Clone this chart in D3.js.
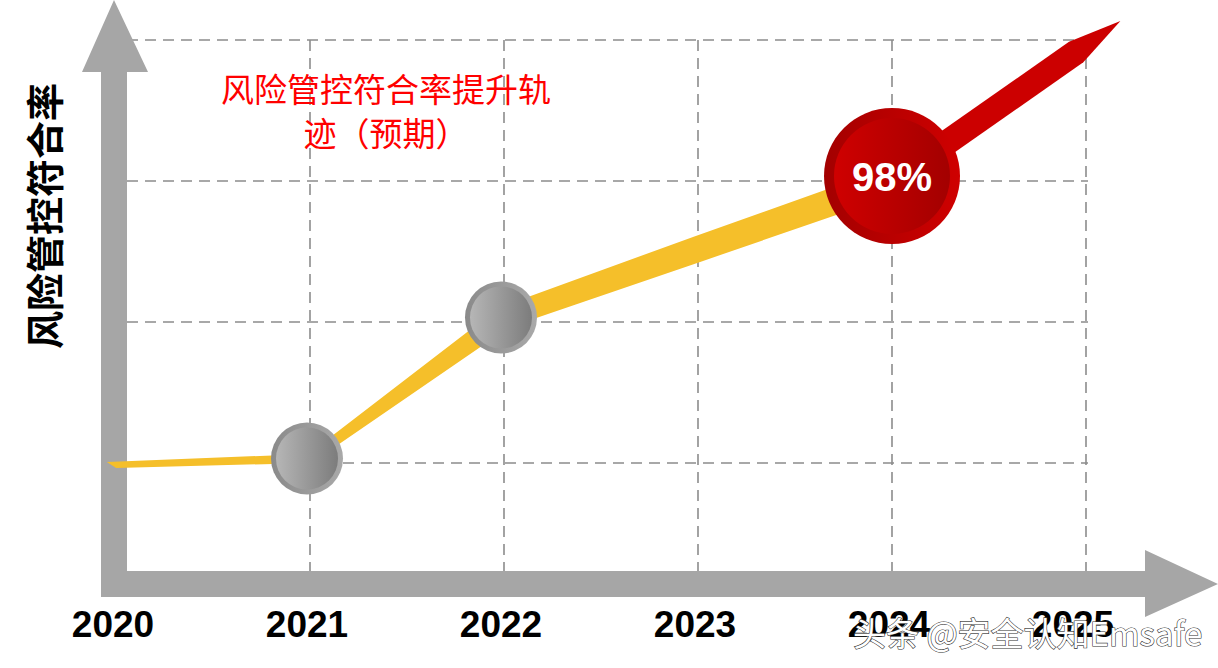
<!DOCTYPE html>
<html>
<head>
<meta charset="utf-8">
<script src="https://cdn.jsdelivr.net/npm/d3@7"></script>
<style>
  html, body { margin: 0; padding: 0; background: #fff; }
  svg { display: block; }
</style>
</head>
<body>
<svg id="chart"></svg>
<script>
// data
const years = [2020, 2021, 2022, 2023, 2024, 2025];
const rates = [75.85, 76.35, 87.35, 92.7, 98, 108.6];
const gridValues = [76, 87, 98, 109];
const yearLabels = ['2020', '2021', '2022', '2023', '2024', '2025'];
const markerYears = [2021, 2022];
const highlightLabel = '98%';
const titleLines = ['风险管控符合率提升轨', '迹（预期）'];
const yTitle = '风险管控符合率';
const watermark = '头条 @安全认知Emsafe';

const width = 1218;
const height = 668;
const axisW = 26;
const axisLeft = 101;
const axisBottom = 597;
const plotLeft = axisLeft + axisW;
const plotBottom = axisBottom - axisW;

const svg = d3.select('#chart').attr('width', width).attr('height', height);

const x = d3.scaleLinear().domain([2020, 2025]).range([116, 1086]);
const y = d3.scaleLinear().domain([76, 109]).range([463, 40]);

const defs = svg.append('defs');
const grad = (id, c1, c2) => {
  const g = defs.append('linearGradient').attr('id', id)
    .attr('x1', 0).attr('x2', 1).attr('y1', 0).attr('y2', 0);
  g.append('stop').attr('offset', '0%').attr('stop-color', c1);
  g.append('stop').attr('offset', '100%').attr('stop-color', c2);
};
grad('redOuter', '#a30000', '#cf0000');
grad('redInner', '#cf0000', '#a30000');
grad('grayOuter', '#8a8a8a', '#a9a9a9');
grad('grayInner', '#b6b6b6', '#7c7c7c');

// grid
const grid = svg.append('g')
  .attr('stroke', '#8c8c8c')
  .attr('stroke-width', 1.6)
  .attr('stroke-dasharray', '11,7')
  .attr('fill', 'none');

grid.selectAll('line.h')
  .data(gridValues)
  .join('line')
  .attr('class', 'h')
  .attr('x1', plotLeft)
  .attr('x2', x(2025) + 2)
  .attr('y1', d => y(d))
  .attr('y2', d => y(d));

grid.selectAll('line.v')
  .data(years.slice(1))
  .join('line')
  .attr('class', 'v')
  .attr('x1', d => x(d))
  .attr('x2', d => x(d))
  .attr('y1', y(d3.max(gridValues)))
  .attr('y2', plotBottom);

// axes drawn as thick gray arrows
const axisColor = '#a6a6a6';
svg.append('path')
  .attr('fill', axisColor)
  .attr('d', `M${axisLeft},${axisBottom} L${axisLeft},72 L82,72 L114,0 L148,72 L${plotLeft},72 L${plotLeft},${axisBottom} Z`);
svg.append('path')
  .attr('fill', axisColor)
  .attr('d', `M${axisLeft},${plotBottom} L1145,${plotBottom} L1145,550 L1218,584 L1145,617 L1145,${axisBottom} L${axisLeft},${axisBottom} Z`);

// yellow ribbon, widening from 2020 to 2024
const pts = years.slice(0, 5).map((yr, i) => [x(yr), y(rates[i])]);
const widths = [6, 9, 22, 26, 28];

function ribbon(points, ws) {
  const n = points.length;
  const segN = [];
  for (let i = 0; i < n - 1; i++) {
    const dx = points[i + 1][0] - points[i][0];
    const dy = points[i + 1][1] - points[i][1];
    const l = Math.hypot(dx, dy);
    segN.push([-dy / l, dx / l]);
  }
  const top = [], bot = [];
  for (let i = 0; i < n; i++) {
    let nx, ny, m = 1;
    if (i === 0) [nx, ny] = segN[0];
    else if (i === n - 1) [nx, ny] = segN[n - 2];
    else {
      nx = segN[i - 1][0] + segN[i][0];
      ny = segN[i - 1][1] + segN[i][1];
      const l = Math.hypot(nx, ny);
      nx /= l; ny /= l;
      m = 1 / (nx * segN[i][0] + ny * segN[i][1]);
    }
    const h = ws[i] / 2 * m;
    top.push([points[i][0] - nx * h, points[i][1] - ny * h]);
    bot.push([points[i][0] + nx * h, points[i][1] + ny * h]);
  }
  // pointed left end
  top[0] = [top[0][0] - 9, top[0][1]];
  return 'M' + top.concat(bot.reverse()).map(p => p.join(',')).join('L') + 'Z';
}

svg.append('path')
  .attr('fill', '#f5bf2a')
  .attr('d', ribbon(pts, widths));

// red arrow from 2024 to 2025
const a0 = [x(2024), y(rates[4])];
const a1 = [x(2025), y(rates[5])];
const adx = a1[0] - a0[0], ady = a1[1] - a0[1];
const al = Math.hypot(adx, ady);
const ux = adx / al, uy = ady / al;
const nx = -uy, ny = ux;
const sw = 12.5;
const shaftEnd = [a1[0] - ux * 12, a1[1] - uy * 12];
const tip = [a1[0] + ux * 42, a1[1] + uy * 42];
svg.append('path')
  .attr('fill', '#cc0000')
  .attr('d', `M${a0[0] + nx * sw},${a0[1] + ny * sw}
    L${shaftEnd[0] + nx * sw},${shaftEnd[1] + ny * sw}
    L${tip[0]},${tip[1]}
    L${shaftEnd[0] - nx * sw},${shaftEnd[1] - ny * sw}
    L${a0[0] - nx * sw},${a0[1] - ny * sw} Z`);

// gray markers
const markers = svg.append('g')
  .selectAll('g')
  .data(markerYears)
  .join('g')
  .attr('transform', d => `translate(${x(d) - 3},${y(rates[years.indexOf(d)])})`);
markers.append('circle').attr('r', 36).attr('fill', 'url(#grayOuter)');
markers.append('circle').attr('r', 31).attr('fill', 'url(#grayInner)');

// highlight 2024
const hl = svg.append('g')
  .attr('transform', `translate(${x(2024)},${y(rates[4]) - 5})`);
hl.append('circle').attr('r', 68).attr('fill', 'url(#redOuter)');
hl.append('circle').attr('r', 58).attr('fill', 'url(#redInner)');
hl.append('text')
  .attr('text-anchor', 'middle')
  .attr('y', 15)
  .attr('fill', '#fff')
  .attr('font-family', '"Liberation Sans", Arial, sans-serif')
  .attr('font-weight', 'bold')
  .attr('font-size', 40)
  .text(highlightLabel);

// x labels
svg.append('g')
  .selectAll('text')
  .data(yearLabels)
  .join('text')
  .attr('x', (d, i) => x(years[i]) - (i === yearLabels.length - 1 ? 13 : 3))
  .attr('y', 637)
  .attr('text-anchor', 'middle')
  .attr('font-family', '"Liberation Sans", Arial, sans-serif')
  .attr('font-weight', 'bold')
  .attr('font-size', 37)
  .attr('fill', '#000')
  .text(d => d);

// y title
svg.append('text')
  .attr('transform', 'translate(59,216) rotate(-90)')
  .attr('text-anchor', 'middle')
  .attr('font-family', '"Noto Sans CJK SC", sans-serif')
  .attr('font-weight', 'bold')
  .attr('font-size', 38)
  .attr('fill', '#000')
  .text(yTitle);

// chart title
svg.append('g')
  .selectAll('text')
  .data(titleLines)
  .join('text')
  .attr('x', 386)
  .attr('y', (d, i) => 102 + i * 44)
  .attr('text-anchor', 'middle')
  .attr('font-family', '"Noto Sans CJK SC", sans-serif')
  .attr('font-size', 33)
  .attr('fill', '#ff0000')
  .text(d => d);

// watermark
svg.append('text')
  .attr('x', 853)
  .attr('y', 646)
  .attr('font-family', '"Noto Sans CJK SC", sans-serif')
  .attr('font-size', 33)
  .attr('fill', '#fff')
  .attr('stroke', '#333')
  .attr('stroke-width', 1.2)
  .attr('paint-order', 'stroke')
  .text(watermark);
</script>
</body>
</html>
